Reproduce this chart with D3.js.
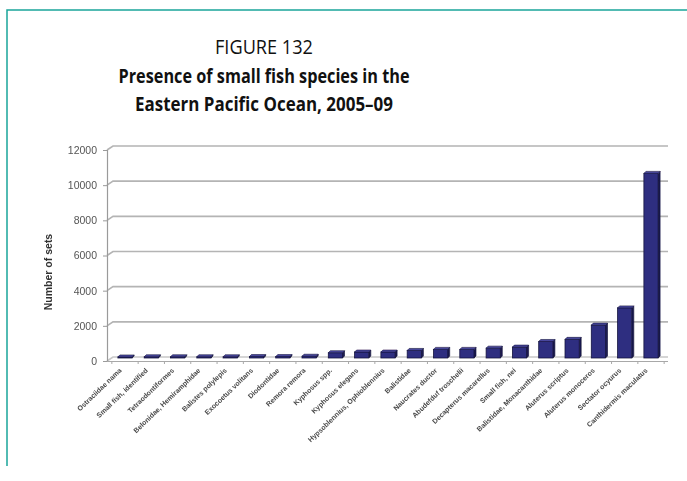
<!DOCTYPE html>
<html>
<head>
<meta charset="utf-8">
<script src="https://cdn.jsdelivr.net/npm/d3@7/dist/d3.min.js"></script>
<style>
  html, body { margin: 0; padding: 0; background: #fff; }
  svg { display: block; }
</style>
</head>
<body>
<svg id="chart" width="687" height="481"></svg>
<script>
// Species, in the order they are plotted (ascending number of sets)
const categories = [
  "Ostraciidae nama",
  "Small fish, identified",
  "Tetraodontiformes",
  "Belonidae, Hemiramphidae",
  "Balistes polylepis",
  "Exocoetus volitans",
  "Diodontidae",
  "Remora remora",
  "Kyphosus spp.",
  "Kyphosus elegans",
  "Hypsoblennius, Ophioblennius",
  "Balistidae",
  "Naucrates ductor",
  "Abudefduf troschelii",
  "Decapterus macarellus",
  "Small fish, nei",
  "Balistidae, Monacanthidae",
  "Aluterus scriptus",
  "Aluterus monoceros",
  "Sectator ocyurus",
  "Canthidermis maculatus"
];

// Number of purse-seine sets in which each species was recorded
const sets = [60, 70, 70, 70, 70, 80, 80, 100, 300, 340, 340, 430, 490, 490, 560, 620, 940, 1060, 1870, 2850, 10500];

const yTicks = [0, 2000, 4000, 6000, 8000, 10000, 12000];

const titleLines = [
  { text: "FIGURE 132", weight: 400, y: 54, len: 98 },
  { text: "Presence of small fish species in the", weight: 700, y: 83, len: 291 },
  { text: "Eastern Pacific Ocean, 2005\u201309", weight: 700, y: 111, len: 258 }
];

const svg = d3.select("#chart");

// Frame
svg.append("path")
  .attr("d", "M7,466 L7,10 L687,10")
  .attr("fill", "none")
  .attr("stroke", "#1aa59b")
  .attr("stroke-width", 1.5);

// Title block
svg.selectAll("text.title")
  .data(titleLines)
  .join("text")
  .attr("class", "title")
  .attr("x", 264)
  .attr("y", d => d.y)
  .attr("text-anchor", "middle")
  .attr("font-family", "'Open Sans', 'Noto Sans', sans-serif")
  .attr("font-size", 20)
  .attr("font-weight", d => d.weight)
  .attr("fill", "#111")
  .attr("textLength", d => d.len)
  .attr("lengthAdjust", "spacingAndGlyphs")
  .text(d => d.text);

// Plot area is soft, like a scanned graphic
const defs = svg.append("defs");
defs.append("filter").attr("id", "soft")
  .append("feGaussianBlur").attr("stdDeviation", 0.6);
defs.append("filter").attr("id", "softer")
  .append("feGaussianBlur").attr("stdDeviation", 0.75);

const plot = svg.append("g").attr("filter", "url(#soft)");

const axisX = 107;

const x = d3.scaleBand()
  .domain(categories)
  .range([111.85, 664.15])
  .paddingInner(0.46)
  .paddingOuter(0.23);

const y = d3.scaleLinear()
  .domain([0, 12000])
  .range([361, 150]);

// 3-D wall offset
const wx = 6, wy = -4;

// Gridlines on the back wall
plot.selectAll("path.grid")
  .data(yTicks)
  .join("path")
  .attr("class", "grid")
  .attr("d", t => `M${axisX},${y(t)} L${axisX + wx},${y(t) + wy} L668,${y(t) + wy}`)
  .attr("fill", "none")
  .attr("stroke", t => t === 0 ? "#c8c8c8" : "#b4b4b4")
  .attr("stroke-width", 1.6);

// Y axis
const yAxis = d3.axisLeft(y)
  .tickValues(yTicks)
  .tickSize(4)
  .tickPadding(6)
  .tickFormat(d3.format("d"));

const gy = plot.append("g")
  .attr("transform", `translate(${axisX},0)`)
  .call(yAxis);
gy.select(".domain").attr("stroke", "#9a9a9a").attr("stroke-width", 1.2);
gy.selectAll(".tick line").attr("stroke", "#9a9a9a");
gy.selectAll(".tick text")
  .attr("font-family", "Arial, 'Liberation Sans', sans-serif")
  .attr("font-size", 10.5)
  .attr("fill", "#555");

// X axis
const xAxis = d3.axisBottom(x).tickSize(0).tickFormat("");
const gx = plot.append("g")
  .attr("transform", `translate(0,${y(0)})`)
  .call(xAxis);
gx.select(".domain")
  .attr("d", `M${axisX},0.5H668`)
  .attr("stroke", "#a8a8a8").attr("stroke-width", 1.2);

// Category separator ticks
plot.selectAll("line.sep")
  .data(d3.range(categories.length + 1))
  .join("line")
  .attr("class", "sep")
  .attr("x1", i => x.range()[0] + i * x.step())
  .attr("x2", i => x.range()[0] + i * x.step())
  .attr("y1", y(0))
  .attr("y2", y(0) + 3)
  .attr("stroke", "#a8a8a8");

// Category labels
plot.append("g").attr("filter", "url(#softer)")
  .selectAll("text.cat")
  .data(categories)
  .join("text")
  .attr("class", "cat")
  .attr("transform", d => `translate(${x(d) + x.bandwidth() / 2 - 3},${y(0) + 10}) rotate(-44)`)
  .attr("text-anchor", "end")
  .attr("font-family", "Arial, 'Liberation Sans', sans-serif")
  .attr("font-size", 7)
  .attr("font-weight", 700)
  .attr("fill", "#4a4a4a")
  .text(d => d);

// Columns drawn as simple 3-D blocks
const base = y(0) - 3;
const dx = 2, dy = -2;
const bars = plot.selectAll("g.bar")
  .data(categories.map((c, i) => ({ c, v: sets[i] })))
  .join("g")
  .attr("class", "bar");

const topOf = d => base - (y(0) - y(d.v));

bars.append("path") // side face
  .attr("d", d => {
    const x1 = x(d.c) + x.bandwidth();
    const top = topOf(d);
    return `M${x1},${base} L${x1 + dx},${base + dy} L${x1 + dx},${top + dy} L${x1},${top} Z`;
  })
  .attr("fill", "#1c1b52")
  .attr("stroke", "#111133")
  .attr("stroke-width", 0.6);

bars.append("rect") // front face
  .attr("x", d => x(d.c))
  .attr("y", d => topOf(d))
  .attr("width", x.bandwidth())
  .attr("height", d => y(0) - y(d.v))
  .attr("fill", "#2f2e80")
  .attr("stroke", "#15143f")
  .attr("stroke-width", 0.8);

bars.append("path") // top face
  .attr("d", d => {
    const x0 = x(d.c), x1 = x0 + x.bandwidth();
    const top = topOf(d);
    return `M${x0},${top} L${x0 + dx},${top + dy} L${x1 + dx},${top + dy} L${x1},${top} Z`;
  })
  .attr("fill", "#4a49a0")
  .attr("stroke", "#15143f")
  .attr("stroke-width", 0.6);

// Y axis title
plot.append("text")
  .attr("transform", "translate(52,272) rotate(-90)")
  .attr("text-anchor", "middle")
  .attr("font-family", "Arial, 'Liberation Sans', sans-serif")
  .attr("font-size", 10.5)
  .attr("font-weight", 700)
  .attr("fill", "#333")
  .text("Number of sets");
</script>
</body>
</html>
